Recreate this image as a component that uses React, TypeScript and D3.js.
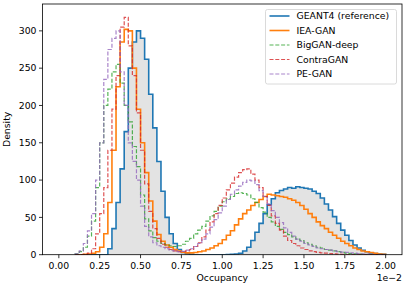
import { useMemo } from "react";
import * as d3 from "d3";

// histogram bins, occupancy in units of 1e-2
const BIN_START = 0.1;
const BIN_WIDTH = 0.025;

const geant4 = [
  0, 0, 0, 0, 0, 0, 0, 0, 8, 35, 70, 115, 165, 250, 285, 300, 290, 262, 215, 170,
  125, 85, 50, 28, 15, 7, 3, 1.5, 0.5, 0, 0, 0, 0, 0, 0, 0, 0, 0.3, 0.5, 1,
  2, 5, 10, 19, 30, 42, 55, 67, 75, 83, 86, 88, 90, 89, 91, 90, 89, 88, 85, 82,
  76, 68, 60, 51, 42, 33, 26, 19, 13, 9, 6, 4, 2.5, 1.5, 1, 0.5,
];

const ieaGan = [
  0, 0, 0.5, 1, 2, 4, 10, 28, 70, 140, 225, 285, 302, 300, 250, 195, 150, 110, 72, 45,
  27, 18, 13, 10, 7, 5, 3.5, 2.5, 2.5, 3, 4, 5, 7, 9, 12, 15, 20, 26, 32, 40,
  48, 55, 60, 66, 70, 74, 78, 81, 80, 79, 78, 77, 75, 73, 70, 66, 61, 55, 50, 44,
  39, 35, 30, 26, 22, 18, 15, 12, 9, 7, 5, 4, 3, 2, 1, 0.5,
];

const bigGanDeep = [
  1, 4, 10, 25, 45, 90, 150, 200, 222, 245, 255, 230, 200, 178, 145, 118, 80, 48, 32, 23,
  18, 15, 13, 12, 11, 12, 14, 18, 22, 28, 33, 38, 45, 52, 58, 65, 71, 75, 78, 82,
  83, 82, 80, 75, 70, 63, 57, 50, 44, 38, 34, 30, 27, 24, 21, 19, 16, 14, 12, 10,
  9, 7, 6, 5, 4, 3, 2, 1.5, 1, 0.8, 0.5, 0.3, 0.2, 0.1, 0, 0,
];

const contraGan = [
  0, 0, 0.5, 2, 8, 28, 55, 90, 140, 195, 240, 305, 318, 280, 240, 190, 140, 95, 58, 35,
  22, 14, 10, 7, 5, 4, 4, 5, 7, 11, 16, 24, 33, 44, 55, 66, 76, 87, 96, 104,
  110, 114, 115, 108, 100, 90, 78, 66, 52, 42, 33, 25, 19, 15, 12, 9, 7, 5, 4, 3,
  2.5, 2, 1.5, 1, 0.7, 0.5, 0.3, 0.2, 0.1, 0, 0, 0, 0, 0, 0, 0,
];

const peGan = [
  1, 5, 15, 32, 55, 100, 150, 235, 275, 290, 300, 245, 200, 150, 125, 100, 65, 38, 24, 16,
  12, 10, 8, 6, 5, 4, 4.5, 6, 8, 11, 15, 21, 28, 37, 47, 56, 65, 74, 81, 87,
  92, 97, 100, 99, 94, 86, 78, 68, 59, 50, 43, 36, 30, 25, 21, 18, 15, 13, 11, 9,
  8, 7, 6, 5, 4, 3.5, 3, 2.5, 2, 1.5, 1, 0.8, 0.5, 0.3, 0.2, 0,
];

const seriesNames = ["GEANT4 (reference)", "IEA-GAN", "BigGAN-deep", "ContraGAN", "PE-GAN"];
const seriesValues = [geant4, ieaGan, bigGanDeep, contraGan, peGan];
const seriesColors = ["#1f77b4", "#ff7f0e", "#2ca02c", "#d62728", "#9467bd"];
const seriesDashed = [false, false, true, true, true];

const xTicks = [0, 0.25, 0.5, 0.75, 1.0, 1.25, 1.5, 1.75, 2.0];
const yTicks = [0, 50, 100, 150, 200, 250, 300];

const W = 407;
const H = 289;
const FONT = "DejaVu Sans, sans-serif";

const strokeProps = (i: number) =>
  seriesDashed[i]
    ? { stroke: seriesColors[i], strokeWidth: 1.2, strokeDasharray: "4,1.8", strokeOpacity: 0.8 }
    : { stroke: seriesColors[i], strokeWidth: 1.6 };

export default function App() {
  const left = 42.5;
  const right = 402;
  const top = 4;
  const bottom = 254.7;

  const x = d3.scaleLinear().domain([-0.1, 2.1]).range([left, right]);
  const y = d3.scaleLinear().domain([0, 336]).range([bottom, top]);

  const stepPoints = (vals: number[]) => {
    const pts: [number, number][] = [[BIN_START, 0]];
    vals.forEach((v, i) => {
      const x0 = BIN_START + i * BIN_WIDTH;
      pts.push([x0, v], [x0 + BIN_WIDTH, v]);
    });
    pts.push([BIN_START + vals.length * BIN_WIDTH, 0]);
    return pts;
  };

  const line = d3
    .line<[number, number]>()
    .x((d) => x(d[0]))
    .y((d) => y(d[1]));

  const paths = useMemo(() => seriesValues.map((v) => line(stepPoints(v)) as string), []);

  return (
    <svg
      width={W}
      height={H}
      style={{ position: "fixed", left: 0, top: 0, background: "#fff" }}
      fontFamily={FONT}
    >
      <defs>
        <clipPath id="plot">
          <rect x={left} y={top} width={right - left} height={bottom - top} />
        </clipPath>
      </defs>

      <g clipPath="url(#plot)">
        {/* reference fill */}
        <path d={paths[0] + "Z"} fill="#e3e3e3" stroke="none" />
        {paths.map((d, i) => (
          <path key={seriesNames[i]} d={d} fill="none" {...strokeProps(i)} />
        ))}
      </g>

      {/* frame */}
      <rect x={left} y={top} width={right - left} height={bottom - top} fill="none" stroke="#000" strokeWidth={0.8} />

      {/* x axis */}
      {xTicks.map((t) => (
        <g key={t} transform={`translate(${x(t)},${bottom})`}>
          <line y2={3.5} stroke="#000" strokeWidth={0.8} />
          <text y={14} textAnchor="middle" fontSize={9.3} fill="#000">
            {t.toFixed(2)}
          </text>
        </g>
      ))}
      <text x={(left + right) / 2} y={281} textAnchor="middle" fontSize={9.3}>
        Occupancy
      </text>
      <text x={right} y={281} textAnchor="end" fontSize={9.3}>
        1e−2
      </text>

      {/* y axis */}
      {yTicks.map((t) => (
        <g key={t} transform={`translate(${left},${y(t)})`}>
          <line x2={-3.5} stroke="#000" strokeWidth={0.8} />
          <text x={-6} dy="0.35em" textAnchor="end" fontSize={9.3} fill="#000">
            {t}
          </text>
        </g>
      ))}
      <text
        transform={`translate(9.5,${(top + bottom) / 2}) rotate(-90)`}
        textAnchor="middle"
        fontSize={9.3}
      >
        Density
      </text>

      {/* legend */}
      <g transform="translate(265.5,9.5)">
        <rect width={131} height={74.5} rx={2} fill="#fff" fillOpacity={0.8} stroke="#d0d0d0" strokeWidth={0.8} />
        {seriesNames.map((name, i) => (
          <g key={name} transform={`translate(0,${6.5 + i * 14.5})`}>
            <line x1={4} x2={24} {...strokeProps(i)} />
            <text x={31} dy="0.35em" fontSize={9.3}>
              {name}
            </text>
          </g>
        ))}
      </g>
    </svg>
  );
}
